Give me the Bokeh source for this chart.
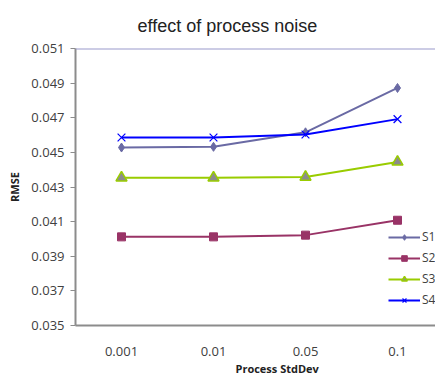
from bokeh.plotting import figure
from bokeh.models import Range1d, FixedTicker, Legend, LegendItem, Span, PrintfTickFormatter, Title
from bokeh.embed import file_html
from bokeh.resources import INLINE

categories = ["0.001", "0.01", "0.05", "0.1"]
s1 = [0.04528, 0.04532, 0.04616, 0.04872]
s2 = [0.04012, 0.04012, 0.04022, 0.04108]
s3 = [0.04353, 0.04353, 0.04358, 0.04445]
s4 = [0.04586, 0.04586, 0.04603, 0.04692]
series_names = ["S1", "S2", "S3", "S4"]
y_ticks = [0.035, 0.037, 0.039, 0.041, 0.043, 0.045, 0.047, 0.049, 0.051]

xs = list(range(len(categories)))

p = figure(width=435, height=380, output_backend="svg", toolbar_location=None,
           x_range=Range1d(-0.5, 3.413), y_range=Range1d(0.035, 0.051),
           min_border_left=75, min_border_right=0, min_border_top=47, min_border_bottom=55,
           title=None)
p.outline_line_color = None
p.xgrid.visible = False
p.ygrid.visible = False
p.background_fill_color = "white"
p.border_fill_color = "white"

# title
p.add_layout(Title(text="effect of process noise", align="left", offset=62, standoff=26,
                   text_font="Liberation Sans", text_font_size="18px", text_font_style="normal",
                   text_color="#222222"), "above")

# axes
p.yaxis.ticker = FixedTicker(ticks=y_ticks)
p.yaxis.formatter = PrintfTickFormatter(format="%.3f")
p.yaxis.axis_line_color = "#8c8c8c"
p.yaxis.axis_line_width = 2
p.yaxis.major_tick_line_color = "#8c8c8c"
p.yaxis.major_tick_out = 5
p.yaxis.major_tick_in = 0
p.yaxis.minor_tick_line_color = None
p.yaxis.major_label_text_font = "Open Sans"
p.yaxis.major_label_text_font_size = "13px"
p.yaxis.major_label_text_color = "#404040"
p.yaxis.major_label_standoff = 6
p.yaxis.axis_label = "RMSE"
p.yaxis.axis_label_text_font = "Open Sans"
p.yaxis.axis_label_text_font_size = "11px"
p.yaxis.axis_label_text_font_style = "bold"
p.yaxis.axis_label_text_color = "#222222"
p.yaxis.axis_label_standoff = 6

p.xaxis.ticker = FixedTicker(ticks=xs)
p.xaxis.major_label_overrides = {i: c for i, c in enumerate(categories)}
p.xaxis.axis_line_color = "#8c8c8c"
p.xaxis.axis_line_width = 2
p.xaxis.major_tick_line_color = None
p.xaxis.minor_tick_line_color = None
p.xaxis.major_tick_out = 0
p.xaxis.major_label_text_font = "Open Sans"
p.xaxis.major_label_text_font_size = "13px"
p.xaxis.major_label_text_color = "#404040"
p.xaxis.major_label_standoff = 21

p.add_layout(Title(text="Process StdDev", align="left", offset=160, standoff=0,
                   text_font="Open Sans", text_font_size="11px", text_font_style="bold",
                   text_color="#222222"), "below")

# top border line
p.add_layout(Span(location=0.051, dimension="width", line_color="#9999cc", line_width=2))

colors = ["#6a6aa4", "#993366", "#99cc00", "#0000ff"]
l1 = p.line(xs, s1, line_color=colors[0], line_width=2)
m1 = p.scatter(xs, s1, marker="diamond", size=9, fill_color=colors[0], line_color=colors[0])
l2 = p.line(xs, s2, line_color=colors[1], line_width=2)
m2 = p.scatter(xs, s2, marker="square", size=8, fill_color=colors[1], line_color=colors[1])
l3 = p.line(xs, s3, line_color=colors[2], line_width=2)
m3 = p.scatter(xs, s3, marker="triangle", size=11, fill_color="#8c8c8c", line_color=colors[2], line_width=1.5)
l4 = p.line(xs, s4, line_color=colors[3], line_width=2)
m4 = p.scatter(xs, s4, marker="x", size=11, line_color=colors[3], line_width=1.2)

legend = Legend(items=[LegendItem(label=series_names[0], renderers=[l1, m1]),
                       LegendItem(label=series_names[1], renderers=[l2, m2]),
                       LegendItem(label=series_names[2], renderers=[l3, m3]),
                       LegendItem(label=series_names[3], renderers=[l4, m4])],
                location=(313, 17), padding=0, margin=0, spacing=4,
                glyph_width=32, glyph_height=14, label_height=14, label_standoff=2,
                label_text_font="Open Sans", label_text_font_size="12px", label_text_color="#404040",
                border_line_color=None, background_fill_alpha=0)
p.add_layout(legend, "center")

open("out.html", "w").write(file_html(p, INLINE))
